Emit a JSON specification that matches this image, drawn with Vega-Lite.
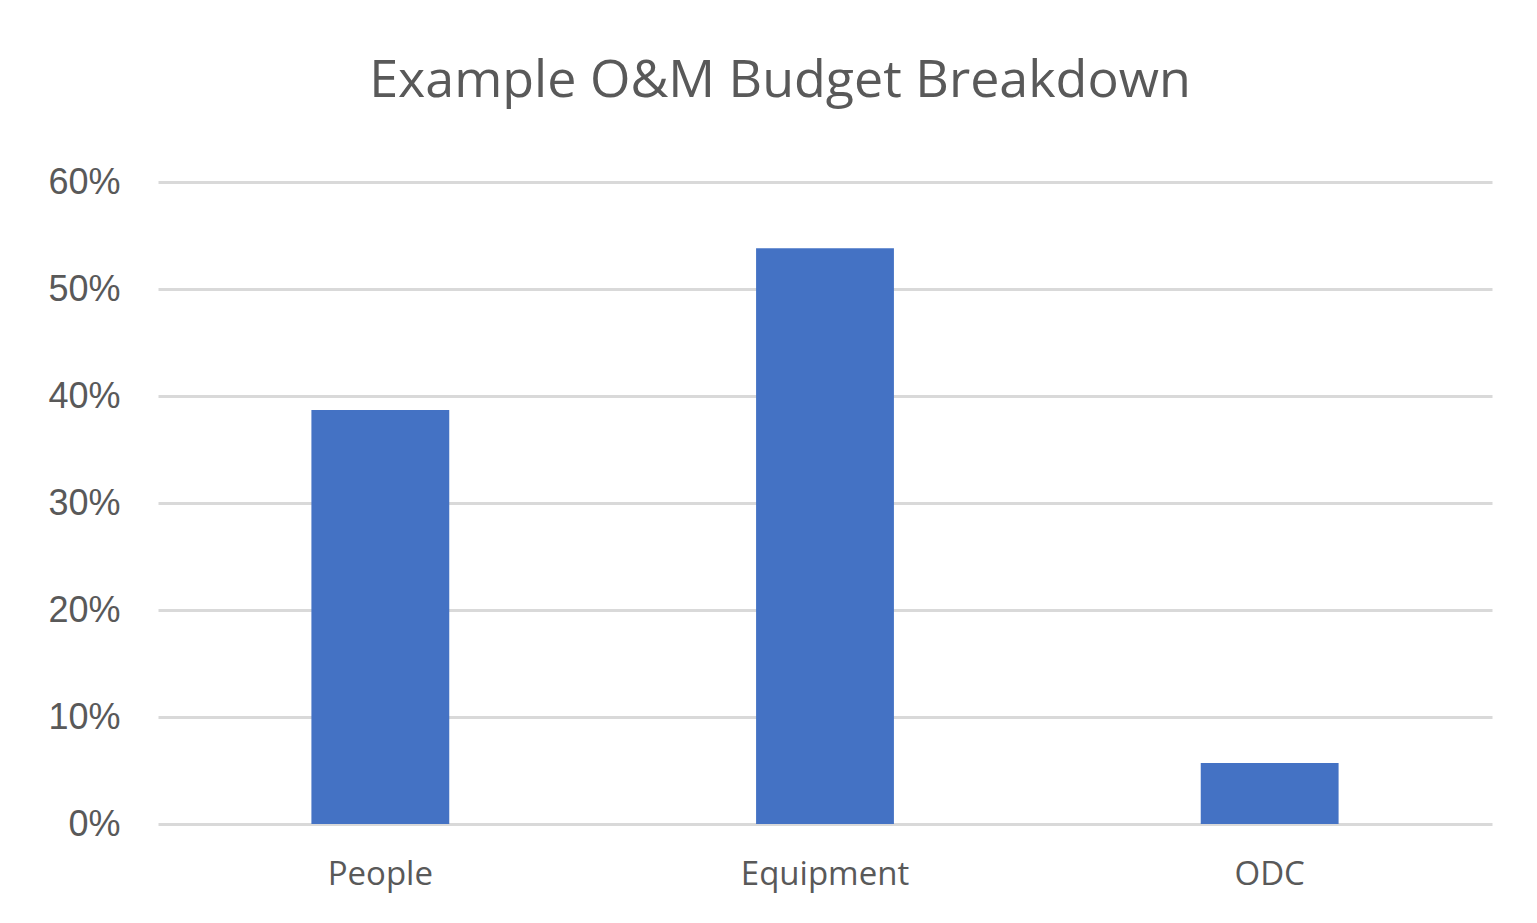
{
  "$schema": "https://vega.github.io/schema/vega-lite/v6.json",
  "autosize": "none",
  "width": 1334,
  "height": 642,
  "padding": {"left": 158, "top": 182, "right": 45, "bottom": 99},
  "background": "white",
  "title": {
    "text": "Example O&M Budget Breakdown",
    "font": "Open Sans",
    "fontSize": 52,
    "fontWeight": "normal",
    "color": "#595959",
    "anchor": "middle",
    "dx": -45,
    "offset": 56
  },
  "data": {
    "values": [
      {"category": "People", "share": 0.387},
      {"category": "Equipment", "share": 0.538},
      {"category": "ODC", "share": 0.057}
    ]
  },
  "mark": {"type": "bar", "color": "#4472C4"},
  "encoding": {
    "x": {
      "field": "category",
      "type": "nominal",
      "sort": null,
      "title": null,
      "scale": {"paddingInner": 0.69, "paddingOuter": 0.345},
      "axis": {
        "domain": false,
        "ticks": false,
        "labelAngle": 0,
        "labelFont": "Open Sans",
        "labelFontSize": 33,
        "labelColor": "#595959",
        "labelPadding": 34
      }
    },
    "y": {
      "field": "share",
      "type": "quantitative",
      "title": null,
      "scale": {"domain": [0, 0.6], "nice": false},
      "axis": {
        "values": [0, 0.1, 0.2, 0.3, 0.4, 0.5, 0.6],
        "format": ".0%",
        "domain": false,
        "ticks": false,
        "labelFont": "Liberation Sans",
        "labelFontSize": 36,
        "labelColor": "#595959",
        "labelPadding": 38,
        "gridColor": "#d9d9d9",
        "gridWidth": 3
      }
    }
  },
  "config": {"view": {"stroke": null}}
}
